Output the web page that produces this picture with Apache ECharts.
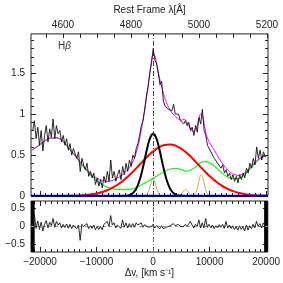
<!DOCTYPE html>
<html><head><meta charset="utf-8">
<script src="https://cdn.jsdelivr.net/npm/echarts@6/dist/echarts.min.js"></script>
<style>html,body{margin:0;padding:0;background:#fff}#c{width:283px;height:283px}</style>
</head><body><div id="c"></div>
<script>
// ---- axis ranges ----
const VMIN = -21600, VMAX = 20300;      // velocity, km/s
const LMIN = 4506, LMAX = 5203;         // rest-frame wavelength, Angstrom
const FMIN = 0, FMAX = 1.98;            // flux
const RMIN = -0.7, RMAX = 0.7;          // residual

// ---- tick labels ----
const velTicks = [-20000, -10000, 0, 10000, 20000];
const lamTicks = [4600, 4800, 5000, 5200];
const fluxTicks = [0, 0.5, 1, 1.5];
const residTicks = [-0.5, 0, 0.5];

// ---- observed spectrum (grid start / step in km/s) ----
const specStart = -21300, specStep = 300;
const specFlux = [
  0.80,0.92,0.70,0.84,0.62,0.80,0.55,0.74,0.86,0.66,
  0.82,0.72,0.94,0.70,0.86,0.76,0.80,0.66,0.74,0.62,
  0.70,0.56,0.64,0.50,0.58,0.52,0.46,0.54,0.30,0.46,
  0.38,0.32,0.40,0.24,0.30,0.22,0.28,0.14,0.22,0.12,
  0.20,0.10,0.24,0.16,0.30,0.18,0.44,0.22,0.30,0.18,
  0.26,0.32,0.20,0.36,0.26,0.40,0.30,0.44,0.36,0.50,
  0.46,0.58,0.64,0.74,0.86,0.92,1.06,1.22,1.34,1.50,
  1.62,1.80,1.66,1.62,1.50,1.36,1.40,1.16,1.10,1.12,
  1.06,1.08,1.04,1.12,1.00,0.98,1.00,0.92,0.94,0.88,
  0.92,0.86,0.90,0.80,0.84,0.74,0.86,0.78,0.96,0.88,
  1.06,0.80,0.74,0.62,0.64,0.54,0.56,0.46,0.48,0.40,
  0.42,0.34,0.38,0.28,0.32,0.24,0.28,0.20,0.26,0.18,
  0.24,0.16,0.26,0.20,0.28,0.22,0.34,0.28,0.40,0.34,
  0.46,0.38,0.60,0.46,0.56,0.44,0.54,0.48,0.50
];
const residFlux = [
  0.05,0.32,-0.05,0.15,-0.08,0.12,-0.12,0.06,0.16,-0.04,
  0.12,0.02,0.22,-0.02,0.14,0.04,0.10,-0.04,0.06,-0.03,
  0.07,-0.05,0.06,-0.06,0.04,0.00,-0.06,0.04,-0.38,0.06,
  0.00,-0.05,0.08,-0.06,0.02,-0.05,0.04,-0.09,0.00,-0.08,
  0.00,-0.09,0.06,0.02,0.14,0.00,0.30,0.04,0.10,-0.04,
  0.04,0.08,-0.05,0.18,-0.02,0.10,-0.04,0.08,-0.02,0.08,
  -0.02,0.10,0.04,0.02,0.10,-0.02,0.05,0.00,-0.02,0.02,
  0.00,0.06,-0.04,0.02,-0.03,-0.06,0.02,-0.06,-0.10,-0.02,
  -0.06,0.02,0.00,0.08,0.02,0.04,0.06,0.00,0.04,0.00,
  0.06,0.00,0.07,0.14,0.04,-0.04,0.06,0.00,0.18,-0.04,
  0.10,-0.04,0.22,-0.02,0.06,-0.04,0.04,-0.06,0.02,-0.04,
  0.05,-0.02,0.06,-0.05,0.14,-0.04,0.04,-0.06,0.02,-0.08,
  0.00,-0.10,0.02,-0.08,0.00,-0.12,0.04,-0.10,0.02,-0.06,
  0.06,-0.04,0.14,0.00,0.08,-0.04,0.10,0.02,0.06
];

// ---- model fit ----
const modelV = [-21500,-21000,-20000,-19000,-18000,-17000,-16000,-15000,-14000,-13000,-12000,-11000,-10000,-9000,-8000,-7000,-6000,
  -5500,-5000,-4500,-4000,-3500,-3000,-2500,-2000,
  -1500,-1250,-1000,-750,-500,-250,0,250,500,750,1000,1250,1500,
  2000,2500,3000,3500,4000,4500,5000,5500,5750,6000,6500,7000,
  7500,7750,8000,8250,8500,8750,9000,9250,9500,10000,10500,11000,
  12000,13000,14000,15000,16000,17000,18000,19000,20000];
const modelF = [0.56,0.58,0.63,0.68,0.71,0.71,0.671,0.592,0.513,0.426,0.341,0.274,0.221,0.188,0.178,0.195,0.231,
  0.255,0.285,0.321,0.368,0.433,0.527,0.662,0.844,
  1.051,1.164,1.284,1.417,1.553,1.669,1.73,1.719,1.651,1.564,1.48,1.406,1.338,
  1.216,1.116,1.049,1.0,0.968,0.939,0.926,0.935,0.925,0.897,0.83,0.792,
  0.811,0.855,0.925,0.989,1.01,0.969,0.888,0.794,0.725,0.65,0.592,0.537,
  0.422,0.33,0.274,0.252,0.275,0.335,0.409,0.465,0.493];

// ---- components ----
const compV = [-21500,-21000,-20000,-19000,-18000,-17000,-16000,-15000,-14000,-13000,-12000,-11000,-10000,-9000,-8000,-7000,-6000,-5000,-4000,-3000,-2000,-1000,
  0,1000,2000,3000,4000,5000,6000,7000,8000,9000,10000,11000,12000,13000,14000,15000,16000,17000,18000,19000,20000];
const broadF = [0,0,0,0.0001,0.0002,0.0004,0.001,0.002,0.003,0.006,0.011,0.019,0.031,0.048,0.073,0.107,0.151,0.205,0.268,0.338,0.411,0.482,
  0.545,0.593,0.623,0.630,0.613,0.576,0.521,0.455,0.382,0.310,0.242,0.182,0.132,0.092,0.062,0.040,0.025,0.015,0.009,0.005,0.003];
const feF = [0.56,0.58,0.63,0.68,0.71,0.71,0.67,0.59,0.51,0.42,0.33,0.255,0.19,0.14,0.105,0.088,0.08,0.078,0.083,0.10,0.14,0.175,
  0.215,0.26,0.30,0.33,0.338,0.322,0.305,0.33,0.385,0.42,0.405,0.355,0.29,0.238,0.212,0.212,0.25,0.32,0.40,0.46,0.49];
const narrowV = [-6000,-5500,-5000,-4500,-4000,-3500,-3000,-2500,-2000,-1500,-1000,-500,0,500,1000,1500,2000,2500,3000,3500,4000,4500,5000,5500,6000];
const narrowF = [0,0.001,0.002,0.006,0.017,0.041,0.089,0.172,0.293,0.445,0.599,0.716,0.76,0.716,0.599,0.445,0.293,0.172,0.089,0.041,0.017,0.006,0.002,0.001,0];
const linesV = [-21500,
  -1750,-1500,-1250,-1000,-750,-500,-250,0,250,500,750,1000,1250,1500,1750,
  4250,4500,4750,5000,5250,5500,5750,6000,6250,6500,6750,7000,7250,7500,7750,8000,8250,8500,8750,9000,9250,9500,9750,10000,10250,
  20000];
const linesF = [0,
  0,0.002,0.009,0.028,0.068,0.127,0.185,0.21,0.185,0.127,0.068,0.028,0.009,0.002,0,
  0,0.004,0.011,0.026,0.049,0.071,0.08,0.071,0.049,0.026,0.011,0.007,0.012,0.035,0.084,0.158,0.229,0.26,0.229,0.158,0.084,0.035,0.011,0.003,0,
  0];
const contV = [VMIN, VMAX];
const contF = [0, 0];
const maskRanges = [[-21600, -20950], [19650, 20300]];

// ---- build ----
function range(a, b, s) { const r = []; for (let i = 0; a + i * s <= b + 1e-9; i++) r.push(+(a + i * s).toFixed(6)); return r; }
const pair = (xs, ys) => xs.map((x, i) => [x, ys[i]]);
const specData = specFlux.map((f, i) => [specStart + i * specStep, f]);
const residData = residFlux.map((f, i) => [specStart + i * specStep, f]);

const FONT = 'Liberation Sans';
const lab = { fontSize: 10, color: '#222', fontFamily: FONT };
const fmt = v => String(v).replace('-', '\u2212');
const tickStyle = { color: '#222', width: 1 };

function ax(grid, pos, min, max, vals, len, labels, extra) {
  return Object.assign({
    type: 'value', gridIndex: grid, position: pos, min: min, max: max,
    axisLine: { show: false, onZero: false }, splitLine: { show: false },
    axisTick: { show: true, inside: true, length: len, customValues: vals, lineStyle: tickStyle },
    axisLabel: Object.assign({ show: labels, customValues: vals, formatter: fmt, margin: 4 }, lab)
  }, extra || {});
}
const velMinor = range(-21000, 20000, 1000);
const lamMinor = range(4550, 5200, 50);
const fluxMinor = range(0.1, 1.9, 0.1);
const residMinor = range(-0.6, 0.6, 0.1);

const xAxis = [
  ax(0, 'bottom', VMIN, VMAX, velTicks, 5, false),
  ax(0, 'bottom', VMIN, VMAX, velMinor, 3, false),
  ax(0, 'top', LMIN, LMAX, lamTicks, 4, true, { name: 'Rest Frame \u03bb[\u00c5]', nameLocation: 'middle', nameGap: 15,
      nameTextStyle: { fontSize: 10, color: '#222', fontFamily: FONT } }),
  ax(0, 'top', LMIN, LMAX, lamMinor, 4, false),
  ax(1, 'bottom', VMIN, VMAX, velTicks, 5, true, { name: '\u0394v, [km s\u207b\u00b9]', nameLocation: 'middle', nameGap: 16,
      nameTextStyle: { fontSize: 10, color: '#222', fontFamily: FONT } }),
  ax(1, 'bottom', VMIN, VMAX, velMinor, 3, false),
  ax(1, 'top', VMIN, VMAX, velTicks, 5, false),
  ax(1, 'top', VMIN, VMAX, velMinor, 3, false)
];
xAxis[4].axisLabel.margin = 5;
const yAxis = [
  ax(0, 'left', FMIN, FMAX, fluxTicks, 5, true),
  ax(0, 'left', FMIN, FMAX, fluxMinor, 3, false),
  ax(0, 'right', FMIN, FMAX, fluxTicks, 5, false),
  ax(0, 'right', FMIN, FMAX, fluxMinor, 3, false),
  ax(1, 'left', RMIN, RMAX, residTicks, 5, true),
  ax(1, 'left', RMIN, RMAX, residMinor, 3, false),
  ax(1, 'right', RMIN, RMAX, residTicks, 5, false),
  ax(1, 'right', RMIN, RMAX, residMinor, 3, false)
];
yAxis[0].axisLabel.margin = 6;
yAxis[4].axisLabel.margin = 6;

function line(name, data, color, width, z, extra) {
  return Object.assign({ name: name, type: 'line', data: data, xAxisIndex: 0, yAxisIndex: 0, symbol: 'none', z: z,
    lineStyle: { color: color, width: width }, silent: true }, extra || {});
}
const dashDot = { color: '#444', width: 1, type: [5, 2, 1, 2] };

const option = {
  animation: false,
  backgroundColor: '#fff',
  grid: [
    { left: 31, top: 24, width: 237, height: 172, show: true, borderColor: '#222', borderWidth: 1, backgroundColor: 'transparent' },
    { left: 31, top: 201, width: 237, height: 51, show: true, borderColor: '#222', borderWidth: 1, backgroundColor: 'transparent' }
  ],
  xAxis: xAxis,
  yAxis: yAxis,
  graphic: [{
    type: 'text', left: 58, top: 41,
    style: { text: 'H{b|\u03b2}', fontSize: 10, fill: '#333', fontFamily: FONT,
      rich: { b: { fontSize: 10, fontStyle: 'italic', fill: '#333', fontFamily: FONT } } }
  }],
  series: [
    line('FeII', pair(compV, feF), '#22ee22', 1.2, 2, { smooth: true }),
    line('narrow lines', pair(linesV, linesF), '#d8a657', 1, 2, { smooth: 0.3 }),
    line('broad', pair(compV, broadF), '#ff0000', 2, 3, { smooth: true }),
    line('narrow', pair(narrowV, narrowF), '#000000', 2, 3, { smooth: true }),
    line('model', pair(modelV, modelF), '#ff00ff', 1, 4, { smooth: 0.4 }),
    line('spectrum', specData, '#111111', 0.9, 5, {
      markLine: { silent: true, symbol: 'none', label: { show: false }, lineStyle: dashDot, data: [{ xAxis: 0 }] }
    }),
    line('continuum', pair(contV, contF), '#00008b', 2.5, 6),
    line('residual', residData, '#111111', 0.9, 5, {
      xAxisIndex: 4, yAxisIndex: 4,
      markLine: { silent: true, symbol: 'none', label: { show: false },
        data: [
          { xAxis: 0, lineStyle: { color: '#666', width: 1, type: [5, 2, 1, 2] } },
          { yAxis: 0, lineStyle: { color: '#999', width: 1, type: [3, 3] } }
        ] },
      markArea: { silent: true, itemStyle: { color: '#000' },
        data: maskRanges.map(r => [{ xAxis: r[0] }, { xAxis: r[1] }]) }
    })
  ]
};
const chart = echarts.init(document.getElementById('c'), null, { renderer: 'canvas' });
chart.setOption(option);
</script>
</body></html>
